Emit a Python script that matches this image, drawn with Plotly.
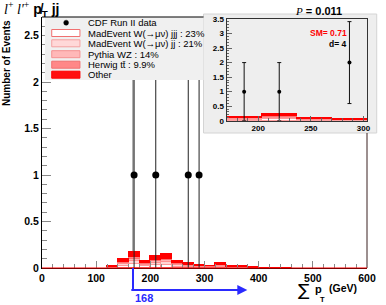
import plotly.graph_objects as go

# ---------------- data ----------------
bin_centers = [130, 150, 170, 190, 210, 230, 250, 270, 290, 310, 330, 350, 370, 390, 410, 430, 450]
other  = [0.010, 0.030, 0.055, 0.025, 0.040, 0.050, 0.025, 0.018, 0.010, 0.008, 0.016, 0.007, 0.007, 0.002, 0.001, 0.001, 0.001]
herwig = [0.002, 0.010, 0.017, 0.008, 0.013, 0.015, 0.008, 0.006, 0.003, 0.003, 0.005, 0.002, 0.002, 0.001, 0.001, 0.000, 0.000]
pythia = [0.003, 0.013, 0.024, 0.011, 0.018, 0.021, 0.010, 0.008, 0.004, 0.003, 0.007, 0.003, 0.003, 0.001, 0.001, 0.001, 0.000]
madjj  = [0.003, 0.019, 0.035, 0.017, 0.027, 0.031, 0.016, 0.011, 0.006, 0.005, 0.010, 0.004, 0.004, 0.001, 0.000, 0.000, 0.001]
madjjj = [0.002, 0.021, 0.039, 0.019, 0.032, 0.033, 0.016, 0.012, 0.007, 0.006, 0.012, 0.004, 0.004, 0.001, 0.001, 0.001, 0.000]

data_x = [170, 210, 270, 290]
data_y = [1, 1, 1, 1]
data_err_up = [2.3, 2.3, 2.3, 2.3]
data_err_dn = [1, 1, 1, 1]

inset_centers = [186.67, 220.0, 253.33, 286.67]
inset_other  = [0.045, 0.070, 0.026, 0.016]
inset_herwig = [0.014, 0.022, 0.008, 0.005]
inset_pythia = [0.020, 0.031, 0.011, 0.007]
inset_madjj  = [0.029, 0.046, 0.017, 0.011]
inset_madjjj = [0.032, 0.051, 0.018, 0.011]
inset_data_x = [186.67, 220.0, 286.67]
inset_data_y = [1, 1, 2]
inset_data_err = [1, 1, 1.41]

legend_labels = ["CDF Run II data", "MadEvent W(\u2192\u03bc\u03bd) jjj : 23%", "MadEvent W(\u2192\u03bc\u03bd) jj : 21%",
                 "Pythia WZ : 14%", "Herwig tt\u0304 : 9.9%", "Other"]
cut_value = 168

# ---------------- style ----------------
FONT = "Liberation Sans"
comp_styles = [  # bottom -> top
    ("madjjj", "#ffffff", "#ff8080"),
    ("madjj", "#ffd6d6", "#ff9a9a"),
    ("pythia", "#ffb4b4", "#ff9090"),
    ("herwig", "#ff8484", "#ff7070"),
    ("other", "#ff0000", "#ff0000"),
]
main_vals = {"madjjj": madjjj, "madjj": madjj, "pythia": pythia, "herwig": herwig, "other": other}
inset_vals = {"madjjj": inset_madjjj, "madjj": inset_madjj, "pythia": inset_pythia,
              "herwig": inset_herwig, "other": inset_other}

W, H = 386, 305
PL, PR, PT, PB = 42, 376, 17, 268          # plot area in page pixels
L, R, T, B = PL, W - PR, PT, H - PB


def px(x):
    return (x - PL) / (PR - PL)


def py(y):
    return (PB - y) / (PB - PT)


fig = go.Figure()

for name, fill, line in comp_styles:
    fig.add_trace(go.Bar(x=bin_centers, y=main_vals[name], width=20,
                         marker=dict(color=fill, line=dict(color=line, width=1)),
                         xaxis="x", yaxis="y"))
for name, fill, line in comp_styles:
    fig.add_trace(go.Bar(x=inset_centers, y=inset_vals[name], width=33.33,
                         marker=dict(color=fill, line=dict(color=line, width=1)),
                         xaxis="x2", yaxis="y2"))

fig.add_trace(go.Scatter(x=data_x, y=data_y, mode="markers",
                         marker=dict(color="black", size=7),
                         error_y=dict(type="data", array=data_err_up, arrayminus=data_err_dn,
                                      width=0, thickness=1, color="#222"),
                         xaxis="x", yaxis="y"))
fig.add_trace(go.Scatter(x=inset_data_x, y=inset_data_y, mode="markers",
                         marker=dict(color="black", size=4),
                         error_y=dict(type="data", array=inset_data_err, width=2, thickness=1, color="#111"),
                         xaxis="x2", yaxis="y2"))

tickfont_main = dict(family=FONT, size=10.5, color="black", weight="bold")
tickfont_inset = dict(family=FONT, size=8, color="black", weight="bold")

fig.update_layout(
    width=W, height=H, margin=dict(l=L, r=R, t=T, b=B),
    paper_bgcolor="white", plot_bgcolor="rgba(0,0,0,0)",
    showlegend=False, barmode="stack", bargap=0,
    xaxis=dict(domain=[0, 1], range=[0, 600], tick0=0, dtick=100, ticks="inside", ticklen=7,
               tickcolor="#888", tickwidth=1, minor=dict(dtick=20, ticks="inside", ticklen=4, tickcolor="#888"),
               showgrid=False, zeroline=False, showline=True, linecolor="black", linewidth=1,
               mirror=False, tickfont=tickfont_main, anchor="y"),
    yaxis=dict(domain=[0, 1], range=[0, 2.7], tick0=0, dtick=0.5, ticks="inside", ticklen=9,
               tickcolor="#888", minor=dict(dtick=0.1, ticks="inside", ticklen=4.5, tickcolor="#888"),
               showgrid=False, zeroline=False, showline=True, linecolor="black", linewidth=1,
               mirror=False, tickfont=tickfont_main, anchor="x"),
    xaxis2=dict(domain=[px(231.7), 1.0], range=[170, 303.33], tick0=0, dtick=50, ticks="inside", ticklen=5,
                tickcolor="#666", minor=dict(dtick=10, ticks="inside", ticklen=3, tickcolor="#666"),
                showgrid=False, zeroline=False, showline=True, linecolor="#333", mirror=True,
                tickfont=tickfont_inset, anchor="y2"),
    yaxis2=dict(domain=[py(120.7), py(19)], range=[0, 3.5], tick0=0, dtick=0.5, ticks="inside", ticklen=5,
                tickcolor="#666", minor=dict(dtick=0.1, ticks="inside", ticklen=2.5, tickcolor="#666"),
                showgrid=False, zeroline=False, showline=True, linecolor="#333", mirror=True,
                tickfont=tickfont_inset, anchor="x2"),
)

shapes = []
# inset panel (below traces)
shapes.append(dict(type="rect", xref="paper", yref="paper", x0=px(208), x1=px(386), y0=py(133), y1=py(14),
                   fillcolor="#eeeeee", line=dict(color="#d4d4d4", width=1), layer="below"))
# cut line
shapes.append(dict(type="line", xref="x", yref="paper", x0=cut_value, x1=cut_value, y0=0, y1=1,
                   line=dict(color="#999999", width=1.5), layer="below"))
# legend box
shapes.append(dict(type="rect", xref="paper", yref="paper", x0=px(45), x1=px(208), y0=py(80), y1=py(17),
                   fillcolor="#f0f0f0", line=dict(width=0), layer="above"))
# frame segments (top, right)
shapes.append(dict(type="line", xref="paper", yref="paper", x0=0, x1=px(208), y0=1, y1=1,
                   line=dict(color="black", width=1), layer="above"))
shapes.append(dict(type="line", xref="paper", yref="paper", x0=1, x1=1, y0=0, y1=py(133),
                   line=dict(color="#3a2020", width=1), layer="above"))
# red baseline
shapes.append(dict(type="line", xref="paper", yref="paper", x0=0, x1=1, y0=0, y1=0,
                   line=dict(color="#ff0000", width=1.2), layer="above"))
# legend swatches
row_y = [22.7, 33.0, 43.3, 54.2, 64.7, 74.7]
sw_styles = [("#ffffff", "#f07070"), ("#ffd8d8", "#f4a0a0"), ("#ffb8b8", "#f49090"),
             ("#ff8888", "#f07070"), ("#ff1010", "#ff0000")]
for (fill, line), yy in zip(sw_styles, row_y[1:]):
    shapes.append(dict(type="rect", xref="paper", yref="paper", x0=px(52), x1=px(81),
                       y0=py(yy + 3.5), y1=py(yy - 3.5), fillcolor=fill,
                       line=dict(color=line, width=1), layer="above"))
shapes.append(dict(type="circle", xref="paper", yref="paper", x0=px(64.3), x1=px(69.3),
                   y0=py(row_y[0] + 2.5), y1=py(row_y[0] - 2.5), fillcolor="black",
                   line=dict(color="black", width=0.5), layer="above"))
# blue cut bracket (vertical part)
cut_px = PL + cut_value * (PR - PL) / 600
shapes.append(dict(type="line", xref="paper", yref="paper", x0=px(cut_px), x1=px(cut_px),
                   y0=py(268), y1=py(290), line=dict(color="#2a2aff", width=2), layer="above"))
fig.update_layout(shapes=shapes)

ann = []
for lab, yy in zip(legend_labels, row_y):
    ann.append(dict(text=lab, xref="paper", yref="paper", x=px(87), y=py(yy), xanchor="left",
                    yanchor="middle", showarrow=False, font=dict(family=FONT, size=9.5, color="black")))
# title
ann.append(dict(text='<span style="font-family:Liberation Serif"><i>l</i><sup>+</sup> <i>l\'</i><sup>+</sup></span>'
                     ' <b>p\u0338<sub>T</sub> jj</b>',
                xref="paper", yref="paper", x=px(1), y=py(9), xanchor="left", yanchor="middle",
                showarrow=False, font=dict(family=FONT, size=14, color="black")))
# y title
ann.append(dict(text="<b>Number of Events</b>", xref="paper", yref="paper", x=px(6), y=py(63),
                xanchor="center", yanchor="middle", textangle=-90, showarrow=False,
                font=dict(family=FONT, size=10, color="black")))
# P value
ann.append(dict(text='<span style="font-family:Liberation Serif"><i>P</i></span> <b>= 0.011</b>',
                xref="paper", yref="paper", x=px(352), y=py(11), xanchor="right", yanchor="middle",
                showarrow=False, font=dict(family=FONT, size=11, color="black")))
ann.append(dict(text="<b>SM= 0.71</b>", xref="paper", yref="paper", x=px(358), y=py(33),
                xanchor="right", yanchor="middle", showarrow=False,
                font=dict(family=FONT, size=8.5, color="#ff0000")))
ann.append(dict(text="<b>d= 4</b>", xref="paper", yref="paper", x=px(358), y=py(43.5),
                xanchor="right", yanchor="middle", showarrow=False,
                font=dict(family=FONT, size=8.5, color="black")))
# cut label and arrow
ann.append(dict(text="<b>168</b>", xref="paper", yref="paper", x=px(135.5), y=py(298),
                xanchor="left", yanchor="middle", showarrow=False,
                font=dict(family=FONT, size=11, color="#2a2aff")))
ann.append(dict(text="", xref="paper", yref="paper", x=px(253), y=py(290), ax=-(253 - cut_px), ay=0,
                showarrow=True, arrowhead=2, arrowsize=1, arrowwidth=2, arrowcolor="#2a2aff",
                standoff=0, startstandoff=0))
# x title
ann.append(dict(text="\u2211", xref="paper", yref="paper", x=px(311.5), y=py(290),
                xanchor="center", yanchor="middle", showarrow=False,
                font=dict(family="DejaVu Sans", size=17, color="black")))
ann.append(dict(text="<b>p</b>", xref="paper", yref="paper", x=px(326.5), y=py(289),
                xanchor="center", yanchor="middle", showarrow=False,
                font=dict(family=FONT, size=11, color="black")))
ann.append(dict(text="<b>T</b>", xref="paper", yref="paper", x=px(330.5), y=py(299.5),
                xanchor="center", yanchor="middle", showarrow=False,
                font=dict(family=FONT, size=7.5, color="black")))
ann.append(dict(text="<b>(GeV)</b>", xref="paper", yref="paper", x=px(368), y=py(288),
                xanchor="right", yanchor="middle", showarrow=False,
                font=dict(family=FONT, size=10.5, color="black")))
fig.update_layout(annotations=ann)

# remove the default 8px page margin so the figure fills the window exactly
fig.write_html("out.html", config={"displayModeBar": False},
               post_script="document.body.style.margin='0px';")
